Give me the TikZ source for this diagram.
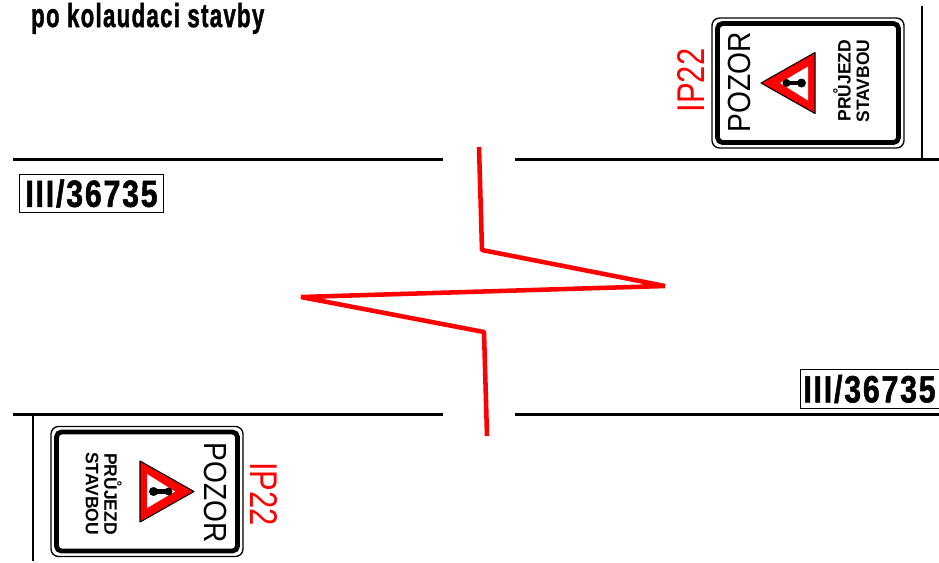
\documentclass[tikz,border=0pt]{standalone}
\usepackage{fontspec}
\setmainfont{Liberation Sans}
\newfontfamily\dinfont[FakeBold=1.6,LetterSpace=6]{Liberation Sans Bold}
\usetikzlibrary{positioning}
\definecolor{signred}{RGB}{255,0,0}
\newcommand{\pxu}{*0.75pt}
\tikzset{
  roadedge/.style={line width=2.8pt},
  bolt/.style={draw=signred,line width=3.4pt,line join=bevel},
  roadno/.style={draw,line width=0.6pt,inner sep=0pt,minimum height=38.5\pxu,font=\fontsize{27}{27}\selectfont\dinfont},
  signtext/.style={transform shape,inner sep=0pt,rotate=90},
  pics/ipsign/.style={code={
    \draw [line width=1pt,rounded corners=7.5\pxu] (-96,-65) rectangle (96,65);
    \draw [line width=3.6pt,rounded corners=5\pxu,fill=white] (-90.5,-59.5) rectangle (90.5,59.5);
    \node (-pozor) [signtext,xscale=0.88,font=\fontsize{24}{24}\selectfont] at (-69,1) {POZOR};
    \node (-line1) [signtext,xscale=0.97,font=\fontsize{13.5}{13.5}\selectfont\bfseries] at (34,2.5) {PRŮJEZD};
    \node (-line2) [signtext,xscale=0.97,font=\fontsize{13.5}{13.5}\selectfont\bfseries] at (55,2) {STAVBOU};
    \node (-code) [signtext,xscale=0.8,text=signred,font=\fontsize{29}{29}\selectfont] at (-117,2.5) {IP22};
    \draw [line width=0.8pt,line join=round,fill=signred] (-47,0) -- (7,30.5) -- (7,-30.5) -- cycle;
    \fill [white] (-28,0) -- (0,16.5) -- (0,-17.5) -- cycle;
    \fill [black] (-21.5,0) circle (4\pxu);
    \fill [black] (-6.5,0) circle (4.5\pxu);
    \draw [line width=3.2pt] (-21.5,0) -- (-6.5,0);
  }}
}
\begin{document}
\begin{tikzpicture}[x=0.75pt,y=0.75pt]
\useasboundingbox (0,0) rectangle (939,-562);
\draw [roadedge] (13,-159.5) -- (443,-159.5);
\draw [roadedge] (515,-159.5) -- (939,-159.5);
\draw [roadedge] (13,-414.5) -- (443,-414.5);
\draw [roadedge] (515,-414.5) -- (939,-414.5);
\draw [line width=1.5pt] (922,-6) -- (922,-159);
\draw [line width=1.5pt] (33,-415) -- (33,-561);
\draw [bolt] (479,-147) -- (482,-250) -- (665,-286) -- (301,-297) -- (484,-332) -- (487,-436);
\foreach \x/\y/\r/\n in {808/-83/0/signa,147/-491.5/180/signb}
  \pic (\n) [rotate=\r] at (\x,\y) {ipsign};
\node (title) [anchor=base west,inner sep=0pt,xscale=0.665,font=\fontsize{25}{25}\selectfont\dinfont] at (31,-27) {po kolaudaci stavby};
\node (roada) [roadno,minimum width=143.5\pxu] at (91.5,-193.5) {\scalebox{0.84}[1.05]{III/36735}};
\node (roadb) [roadno,minimum width=139\pxu] at (869.5,-389) {\scalebox{0.84}[1.05]{III/36735}};
\end{tikzpicture}
\end{document}
